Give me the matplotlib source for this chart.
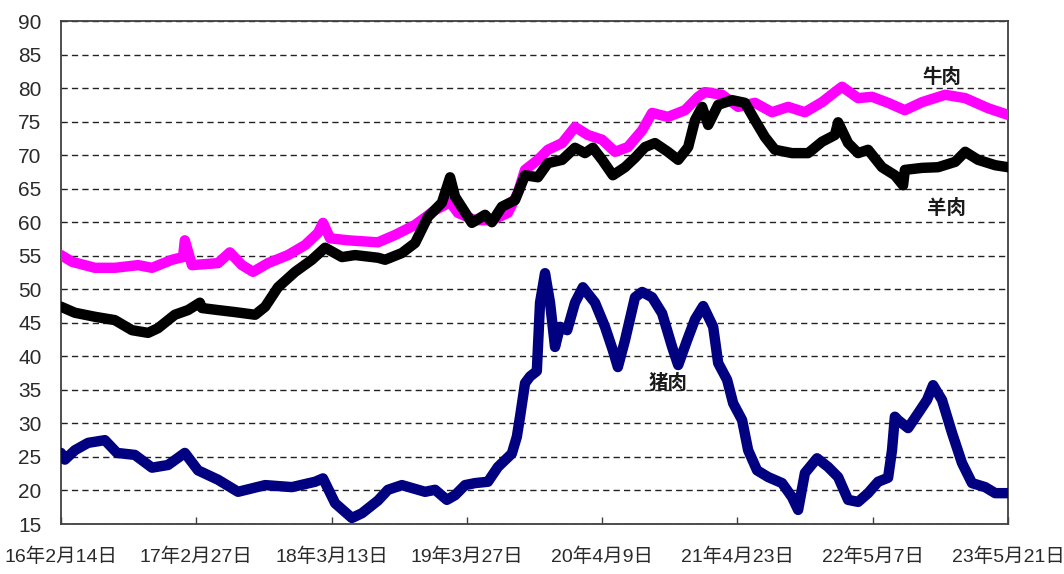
import numpy as np
import matplotlib
matplotlib.use("Agg")
import matplotlib.pyplot as plt

# ---------------- data (days since 2016-02-14, price in yuan/kg) ----------------
start_date = "2016-02-14"

pork_days = [0, 11, 39, 76, 123, 157, 207, 255, 300, 347, 384, 440, 496, 572, 647, 712,
             734, 768, 815, 843, 888, 916, 955, 1020, 1048, 1081, 1104, 1132, 1160, 1196,
             1224, 1263, 1277, 1286, 1300, 1314, 1333, 1342, 1356, 1370, 1384, 1398, 1418,
             1440, 1462, 1496, 1524, 1546, 1560, 1580, 1608, 1628, 1656, 1684, 1712, 1729,
             1754, 1776, 1799, 1827, 1841, 1866, 1883, 1908, 1925, 1950, 1981, 2020, 2048,
             2065, 2084, 2118, 2149, 2177, 2205, 2233, 2261, 2289, 2317, 2328, 2336, 2345,
             2373, 2401, 2426, 2443, 2468, 2496, 2524, 2552, 2589, 2617, 2653]
pork = [25.6, 24.6, 26.0, 27.1, 27.5, 25.6, 25.3, 23.4, 23.8, 25.6, 23.0, 21.6, 19.8, 20.8,
        20.5, 21.3, 21.8, 18.1, 15.9, 16.6, 18.5, 20.1, 20.8, 19.8, 20.1, 18.6, 19.3, 20.8,
        21.1, 21.3, 23.5, 25.5, 28.0, 31.0, 36.0, 37.0, 37.8, 48.0, 52.4, 48.0, 41.4, 44.4,
        43.9, 48.0, 50.3, 48.0, 44.4, 40.9, 38.4, 42.4, 48.8, 49.6, 48.8, 46.4, 41.4, 38.7,
        42.4, 45.5, 47.5, 44.4, 39.0, 36.5, 33.0, 30.5, 26.0, 23.0, 22.0, 21.1, 19.0, 17.1,
        22.6, 24.8, 23.5, 22.0, 18.6, 18.3, 19.6, 21.3, 21.9, 26.0, 31.0, 30.5, 29.3, 31.5,
        33.5, 35.7, 33.5, 28.6, 24.1, 21.1, 20.5, 19.6, 19.6]

beef_days = [0, 31, 95, 151, 216, 255, 311, 342, 347, 367, 440, 473, 507, 538, 580, 636,
             684, 720, 734, 754, 804, 888, 936, 992, 1048, 1090, 1112, 1160, 1207, 1252,
             1280, 1300, 1336, 1364, 1404, 1440, 1476, 1516, 1552, 1588, 1628, 1656, 1700,
             1748, 1785, 1804, 1852, 1897, 1944, 1992, 2037, 2084, 2132, 2168, 2188, 2233,
             2272, 2317, 2364, 2412, 2477, 2533, 2597, 2653]
beef = [55.1, 54.1, 53.2, 53.2, 53.6, 53.2, 54.4, 54.8, 57.3, 53.6, 53.9, 55.5, 53.6, 52.6,
        53.9, 55.1, 56.6, 58.4, 59.9, 57.6, 57.3, 57.0, 58.1, 59.6, 61.8, 63.0, 61.4, 60.3,
        60.3, 61.4, 64.4, 67.8, 69.3, 70.8, 71.8, 74.2, 73.0, 72.3, 70.5, 71.2, 73.7, 76.3,
        75.7, 76.7, 78.7, 79.4, 79.0, 77.2, 77.8, 76.4, 77.2, 76.4, 77.9, 79.4, 80.2, 78.5,
        78.7, 77.8, 76.7, 77.9, 79.0, 78.5, 77.0, 76.0]

mutton_days = [0, 39, 95, 151, 199, 244, 272, 319, 356, 389, 395, 440, 487, 544, 572, 608,
               656, 703, 740, 787, 824, 888, 908, 955, 992, 1028, 1067, 1090, 1104, 1151,
               1188, 1207, 1235, 1272, 1300, 1336, 1364, 1404, 1440, 1468, 1490, 1516, 1546,
               1580, 1608, 1636, 1664, 1700, 1729, 1757, 1776, 1796, 1813, 1841, 1880, 1916,
               1944, 1972, 2000, 2048, 2093, 2132, 2168, 2177, 2205, 2233, 2261, 2300, 2336,
               2359, 2364, 2412, 2457, 2505, 2533, 2569, 2617, 2653]
mutton = [47.4, 46.5, 45.9, 45.4, 43.9, 43.5, 44.2, 46.2, 46.9, 48.0, 47.2, 46.9, 46.6, 46.2,
          47.4, 50.3, 52.6, 54.4, 56.2, 54.8, 55.1, 54.7, 54.4, 55.4, 56.9, 60.8, 62.9, 66.7,
          63.8, 59.9, 61.1, 60.0, 62.3, 63.3, 67.0, 66.7, 68.8, 69.3, 71.1, 70.3, 71.1, 69.3,
          67.0, 68.2, 69.6, 71.2, 71.8, 70.5, 69.3, 71.2, 75.2, 77.2, 74.5, 77.5, 78.2, 77.8,
          75.2, 72.7, 70.8, 70.3, 70.3, 72.0, 73.0, 74.9, 71.8, 70.3, 70.8, 68.2, 67.0, 65.5,
          67.8, 68.1, 68.2, 69.0, 70.5, 69.3, 68.5, 68.2]

tick_dates = ["2016-02-14", "2017-02-27", "2018-03-13", "2019-03-27",
              "2020-04-09", "2021-04-23", "2022-05-07", "2023-05-21"]
tick_labels = ["16年2月14日", "17年2月27日", "18年3月13日", "19年3月27日",
               "20年4月9日", "21年4月23日", "22年5月7日", "23年5月21日"]
y_ticks = list(range(15, 91, 5))

series_names = ["牛肉", "羊肉", "猪肉"]

# ---------------- plot ----------------
base = np.datetime64(start_date)
def to_dates(days):
    return base + np.array(days).astype("timedelta64[D]")

fig = plt.figure(figsize=(10.64, 5.74), dpi=100)
ax = fig.add_axes([0.0573, 0.0871, 0.8901, 0.8763])

line_kw = dict(lw=7.5, solid_joinstyle="round", solid_capstyle="round")
ax.plot(to_dates(beef_days), beef, color="#FF00FF", zorder=3, **line_kw)
ax.plot(to_dates(mutton_days), mutton, color="#000000", zorder=4, **line_kw)
ax.plot(to_dates(pork_days), pork, color="#000080", zorder=5, **line_kw)

ax.set_xlim(np.datetime64(tick_dates[0]), np.datetime64(tick_dates[-1]))
ax.set_ylim(15, 90)
ax.set_yticks(y_ticks)
ax.set_xticks([np.datetime64(d) for d in tick_dates])
ax.set_xticklabels(tick_labels)

ax.yaxis.grid(True, color="#222222", lw=1.0, linestyle=(0, (4.5, 3)), zorder=1)
ax.set_axisbelow(True)

fam = ["Liberation Sans", "Noto Sans CJK SC", "DejaVu Sans"]
for lab in ax.get_yticklabels():
    lab.set_family(fam)
    lab.set_fontsize(15)
    lab.set_color("#2a2a2a")
for lab in ax.get_xticklabels():
    lab.set_family(fam)
    lab.set_fontsize(14)
    lab.set_color("#2a2a2a")

ax.tick_params(axis="y", length=0, pad=14)
ax.tick_params(axis="x", direction="in", length=5, width=1.0, color="#404040", pad=17)

for s in ax.spines.values():
    s.set_color("#404040")
    s.set_linewidth(1.3)

ann_kw = dict(fontsize=14, fontweight="bold", color="#1a1a1a",
              family=["Noto Sans CJK SC", "DejaVu Sans"], ha="center", va="center", zorder=6)
ax.text(np.datetime64("2022-11-17"), 81.6, series_names[0], **ann_kw)
ax.text(np.datetime64("2022-12-01"), 62.1, series_names[1], **ann_kw)
ax.text(np.datetime64("2020-10-11"), 36.0, series_names[2], **ann_kw)

fig.savefig("out.png", dpi=100)
